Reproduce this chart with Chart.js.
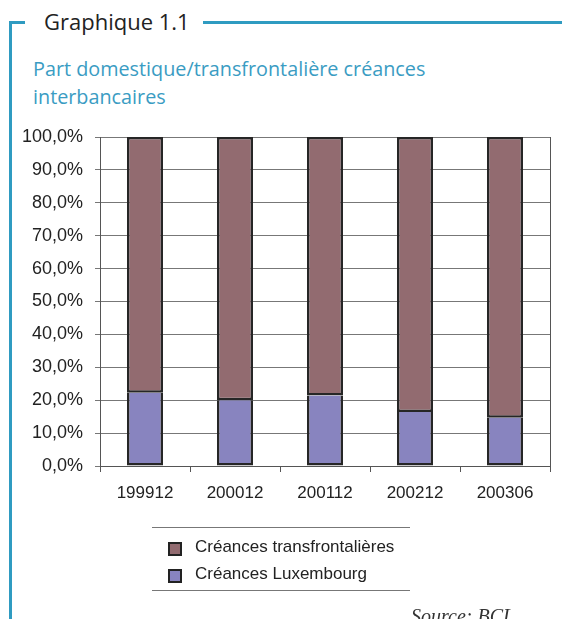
<!DOCTYPE html>
<html>
<head>
<meta charset="utf-8">
<script src="https://cdn.jsdelivr.net/npm/chart.js@4"></script>
<style>
  body { margin: 0; background: #fff; width: 562px; height: 619px; overflow: hidden; position: relative; font-family: "Liberation Sans", Arial, sans-serif; }
  #chart { position: absolute; left: 0; top: 0; }
  .frame-left { position: absolute; left: 9px; top: 21px; width: 3px; height: 600px; background: #2f9bc1; }
  .frame-top1 { position: absolute; left: 9px; top: 21px; width: 16px; height: 3px; background: #2f9bc1; }
  .frame-top2 { position: absolute; left: 203px; top: 21px; width: 359px; height: 3px; background: #2f9bc1; }
  .graph-num { position: absolute; left: 44px; top: 6px; font-family: "Open Sans", sans-serif; font-size: 22px; color: #222; }
  .graph-title { position: absolute; left: 33px; top: 55px; font-family: "Open Sans", sans-serif; font-size: 19.8px; line-height: 28px; color: #3a9cc3; }
  .legend { position: absolute; left: 152px; top: 527px; width: 258px; height: 62px; border-top: 1px solid #777; border-bottom: 1px solid #777; font-size: 17px; color: #222; }
  .legend div { position: absolute; left: 43px; }
  .legend span { position: absolute; left: -27px; top: 5px; width: 10px; height: 10px; border: 2px solid #222; }
  .source { position: absolute; left: 411px; top: 605px; font-family: "Liberation Serif", serif; font-style: italic; font-size: 20px; color: #333; }
</style>
</head>
<body>
<div class="frame-left"></div>
<div class="frame-top1"></div>
<div class="frame-top2"></div>
<div class="graph-num">Graphique 1.1</div>
<div class="graph-title">Part domestique/transfrontalière créances<br>interbancaires</div>
<canvas id="chart" width="562" height="619"></canvas>
<div class="legend">
  <div style="top:9px"><span style="background:#926b70"></span>Créances transfrontalières</div>
  <div style="top:36px"><span style="background:#8884bf"></span>Créances Luxembourg</div>
</div>
<div class="source">Source: BCL</div>
<script>
const categories = ['199912', '200012', '200112', '200212', '200306'];
const luxembourg = [22.3, 20.0, 21.4, 16.4, 14.7];
const transfrontalieres = luxembourg.map(v => 100 - v);
const yTicks = [0, 10, 20, 30, 40, 50, 60, 70, 80, 90, 100];

const plotBorder = {
    id: 'plotBorder',
    afterDraw(chart) {
        const { ctx, chartArea: a } = chart;
        ctx.save();
        ctx.strokeStyle = '#555';
        ctx.lineWidth = 1;
        ctx.beginPath();
        ctx.moveTo(a.right + 0.5, a.top);
        ctx.lineTo(a.right + 0.5, a.bottom);
        ctx.stroke();
        ctx.restore();
    }
};

new Chart(document.getElementById('chart').getContext('2d'), {
    type: 'bar',
    data: {
        labels: categories,
        datasets: [
            { label: 'Créances Luxembourg', data: luxembourg, backgroundColor: '#8884bf', borderColor: '#262626', borderWidth: 2.5, borderSkipped: 'top', barPercentage: 0.4, categoryPercentage: 1 },
            { label: 'Créances transfrontalières', data: transfrontalieres, backgroundColor: '#926b70', borderColor: '#262626', borderWidth: 2.5, borderSkipped: false, barPercentage: 0.4, categoryPercentage: 1 }
        ]
    },
    options: {
        responsive: false,
        animation: false,
        layout: { padding: { left: 20, right: 12, top: 137, bottom: 113 } },
        plugins: { legend: { display: false }, tooltip: { enabled: false } },
        scales: {
            x: {
                stacked: true,
                afterFit: s => { s.height = 40; },
                grid: { offset: true, drawOnChartArea: false, color: '#555', tickLength: 6 },
                border: { color: '#555' },
                ticks: { color: '#222', font: { family: 'Liberation Sans', size: 17 }, padding: 11 }
            },
            y: {
                stacked: true,
                min: 0,
                max: 100,
                afterFit: s => { s.width = 80; },
                afterBuildTicks: s => { s.ticks = yTicks.map(v => ({ value: v })); },
                grid: { color: '#777', tickLength: 5 },
                border: { color: '#555' },
                ticks: {
                    color: '#222',
                    font: { family: 'Liberation Sans', size: 18 },
                    padding: 12,
                    callback: v => v.toFixed(1).replace('.', ',') + '%'
                }
            }
        }
    },
    plugins: [plotBorder]
});
</script>
</body>
</html>
